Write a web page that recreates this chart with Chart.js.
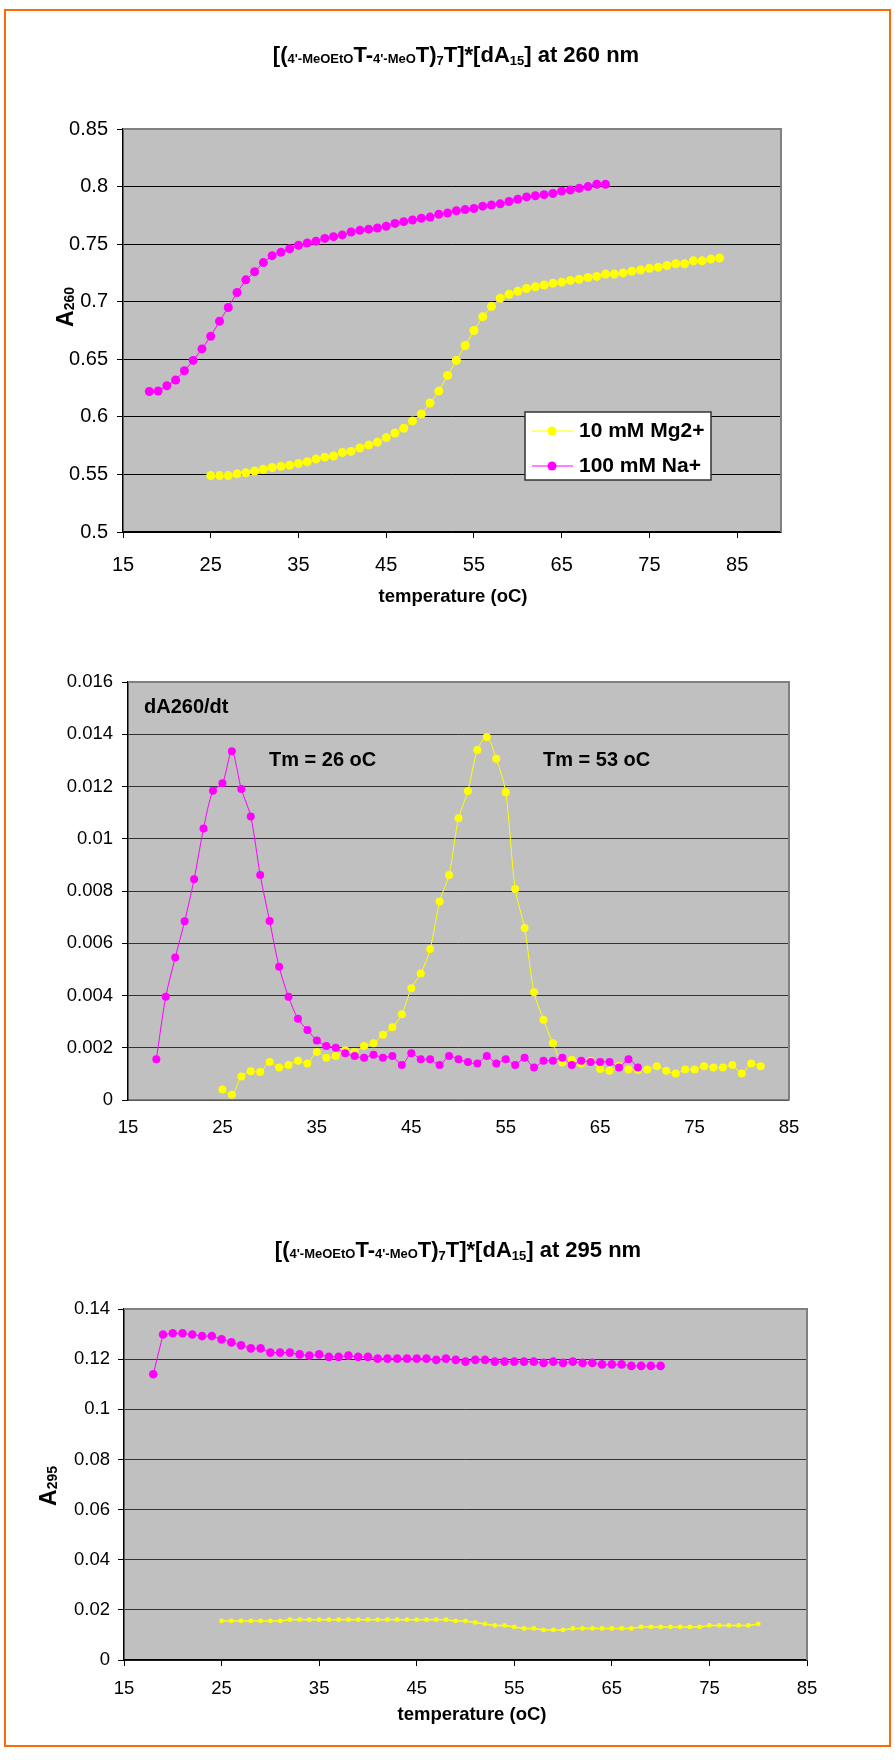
<!DOCTYPE html>
<html>
<head>
<meta charset="utf-8">
<script src="https://cdn.jsdelivr.net/npm/chart.js@4.4.1/dist/chart.umd.min.js"></script>
<style>
  html, body { margin: 0; padding: 0; background: #fff; }
  body { width: 895px; height: 1760px; position: relative; overflow: hidden; }
  canvas { position: absolute; left: 0; }
  #c1 { top: 0; }
  #c2 { top: 640px; }
  #c3 { top: 1160px; }
  .frame { position: absolute; left: 4px; top: 9px; width: 883px; height: 1734px; border: 2px solid #ff6a00; pointer-events: none; }
</style>
</head>
<body>
<canvas id="c1" width="895" height="640"></canvas>
<canvas id="c2" width="895" height="520"></canvas>
<canvas id="c3" width="895" height="600"></canvas>
<div class="frame"></div>
<script>
// ---- data ----
const tempTicks = [15, 25, 35, 45, 55, 65, 75, 85];
const a260Ticks = [0.5, 0.55, 0.6, 0.65, 0.7, 0.75, 0.8, 0.85];
const dadtTicks = [0, 0.002, 0.004, 0.006, 0.008, 0.01, 0.012, 0.014, 0.016];
const a295Ticks = [0, 0.02, 0.04, 0.06, 0.08, 0.1, 0.12, 0.14];

const seriesNames = ['10 mM Mg2+', '100 mM Na+'];

// A260 melting curves
const naTemp260 = [18, 19, 20, 21, 22, 23, 24, 25, 26, 27, 28, 29, 30, 31, 32, 33, 34, 35, 36, 37, 38, 39, 40, 41, 42, 43, 44,
  45, 46, 47, 48, 49, 50, 51, 52, 53, 54, 55, 56, 57, 58, 59, 60, 61, 62, 63, 64, 65, 66, 67, 68, 69, 70];
const naA260 = [0.622, 0.6225, 0.627, 0.632, 0.640, 0.649, 0.659, 0.670, 0.683, 0.695, 0.708, 0.719, 0.726, 0.734, 0.740,
  0.743, 0.746, 0.749, 0.751, 0.7525, 0.755, 0.7565, 0.758, 0.7605, 0.762, 0.763, 0.764, 0.7655, 0.768, 0.7695, 0.771,
  0.7725, 0.7735, 0.776, 0.777, 0.779, 0.780, 0.781, 0.783, 0.784, 0.785, 0.787, 0.789, 0.791, 0.792, 0.793, 0.794,
  0.796, 0.797, 0.7985, 0.800, 0.802, 0.802];
const mgTemp260 = [25, 26, 27, 28, 29, 30, 31, 32, 33, 34, 35, 36, 37, 38, 39, 40, 41, 42, 43, 44, 45, 46, 47, 48, 49, 50, 51,
  52, 53, 54, 55, 56, 57, 58, 59, 60, 61, 62, 63, 64, 65, 66, 67, 68, 69, 70, 71, 72, 73, 74, 75, 76, 77, 78, 79, 80, 81, 82, 83];
const mgA260 = [0.549, 0.549, 0.549, 0.5505, 0.5515, 0.553, 0.5545, 0.556, 0.557, 0.558, 0.5595, 0.561, 0.5635, 0.565,
  0.566, 0.569, 0.570, 0.573, 0.5755, 0.578, 0.582, 0.586, 0.590, 0.5965, 0.6025, 0.612, 0.6225, 0.636, 0.649, 0.662,
  0.675, 0.687, 0.696, 0.703, 0.7065, 0.709, 0.7115, 0.713, 0.7145, 0.716, 0.717, 0.7185, 0.7195, 0.721, 0.722, 0.724,
  0.724, 0.725, 0.7265, 0.7275, 0.729, 0.730, 0.7315, 0.733, 0.733, 0.7355, 0.7355, 0.737, 0.738];

// first derivative dA260/dt
const naTempDer = [18, 19, 20, 21, 22, 23, 24, 25, 26, 27, 28, 29, 30, 31, 32, 33, 34, 35, 36, 37, 38, 39, 40, 41, 42, 43, 44,
  45, 46, 47, 48, 49, 50, 51, 52, 53, 54, 55, 56, 57, 58, 59, 60, 61, 62, 63, 64, 65, 66, 67, 68, 69];
const naDer = [0.00156, 0.00395, 0.00545, 0.00684, 0.00845, 0.01039, 0.01184, 0.01212, 0.01335, 0.0119, 0.01085, 0.00861,
  0.00685, 0.0051, 0.00395, 0.00311, 0.00268, 0.00228, 0.00207, 0.002, 0.00179, 0.00168, 0.00162, 0.00173, 0.00162,
  0.00168, 0.00134, 0.00179, 0.00156, 0.00156, 0.00134, 0.00168, 0.00156, 0.00145, 0.0014, 0.00168, 0.0014, 0.00156,
  0.00134, 0.00162, 0.00124, 0.0015, 0.0015, 0.00162, 0.00134, 0.0015, 0.00145, 0.00145, 0.00145, 0.00124, 0.00156, 0.00124];
const mgTempDer = [25, 26, 27, 28, 29, 30, 31, 32, 33, 34, 35, 36, 37, 38, 39, 40, 41, 42, 43, 44, 45, 46, 47, 48, 49, 50, 51,
  52, 53, 54, 55, 56, 57, 58, 59, 60, 61, 62, 63, 64, 65, 66, 67, 68, 69, 70, 71, 72, 73, 74, 75, 76, 77, 78, 79, 80, 81, 82];
const mgDer = [0.0004, 0.0002, 0.0009, 0.0011, 0.00107, 0.00145, 0.00124, 0.00134, 0.0015, 0.0014, 0.00184, 0.00162,
  0.00168, 0.0019, 0.00184, 0.00207, 0.00217, 0.0025, 0.00278, 0.00328, 0.00428, 0.00484, 0.00578, 0.0076, 0.00861,
  0.01078, 0.01183, 0.0134, 0.01389, 0.01306, 0.01178, 0.00808, 0.00658, 0.00412, 0.00307, 0.00217, 0.00144, 0.00153,
  0.0014, 0.0015, 0.00119, 0.00112, 0.0013, 0.00117, 0.00115, 0.00117, 0.00129, 0.00112, 0.00101, 0.00117, 0.00117,
  0.00129, 0.00124, 0.00124, 0.00134, 0.00101, 0.0014, 0.00129];

// A295 curves
const naTemp295 = [18, 19, 20, 21, 22, 23, 24, 25, 26, 27, 28, 29, 30, 31, 32, 33, 34, 35, 36, 37, 38, 39, 40, 41, 42, 43, 44,
  45, 46, 47, 48, 49, 50, 51, 52, 53, 54, 55, 56, 57, 58, 59, 60, 61, 62, 63, 64, 65, 66, 67, 68, 69, 70];
const naA295 = [0.114, 0.1298, 0.1303, 0.1303, 0.1298, 0.1292, 0.1292, 0.1279, 0.1267, 0.1255, 0.1243, 0.1243, 0.1226,
  0.1226, 0.1226, 0.1219, 0.1214, 0.1219, 0.1209, 0.1209, 0.1214, 0.1209, 0.1209, 0.1202, 0.1202, 0.1202, 0.1202,
  0.1202, 0.1202, 0.1197, 0.1202, 0.1197, 0.119, 0.1197, 0.1197, 0.119, 0.119, 0.119, 0.119, 0.119, 0.1185, 0.119,
  0.1185, 0.119, 0.1185, 0.1185, 0.1179, 0.1179, 0.1179, 0.1173, 0.1173, 0.1173, 0.1173];
const mgTemp295 = [25, 26, 27, 28, 29, 30, 31, 32, 33, 34, 35, 36, 37, 38, 39, 40, 41, 42, 43, 44, 45, 46, 47, 48, 49, 50, 51,
  52, 53, 54, 55, 56, 57, 58, 59, 60, 61, 62, 63, 64, 65, 66, 67, 68, 69, 70, 71, 72, 73, 74, 75, 76, 77, 78, 79, 80];
const mgA295 = [0.0156, 0.0156, 0.0156, 0.0156, 0.0156, 0.0156, 0.0156, 0.0161, 0.0161, 0.0161, 0.0161, 0.0161, 0.0161,
  0.0161, 0.0161, 0.0161, 0.0161, 0.0161, 0.0161, 0.0161, 0.0161, 0.0161, 0.0161, 0.0161, 0.0156, 0.0156, 0.015,
  0.0144, 0.0138, 0.0138, 0.0132, 0.0126, 0.0126, 0.012, 0.012, 0.012, 0.0126, 0.0126, 0.0126, 0.0126, 0.0126, 0.0126,
  0.0126, 0.0132, 0.0132, 0.0132, 0.0132, 0.0132, 0.0132, 0.0132, 0.0138, 0.0138, 0.0138, 0.0138, 0.0138, 0.0144];

// ---- drawing helpers ----
const FONT = '"Liberation Sans", Arial, Helvetica, sans-serif';
const MG = '#ffff00';
const NA = '#ff00ff';

const pts = (xs, ys) => xs.map((x, i) => ({ x, y: ys[i] }));
const fmt = v => String(+v.toFixed(4));
const fixTicks = list => scale => { scale.ticks = list.map(v => ({ value: v })); };

function series(label, xs, ys, color, radius, width, order, tension) {
  return {
    label, data: pts(xs, ys), order,
    borderColor: color, backgroundColor: color, borderWidth: width,
    pointRadius: radius, pointBorderWidth: 0, pointBackgroundColor: color,
    tension: tension || 0, fill: false
  };
}

// text made of runs with different sizes / baseline shifts
function drawRich(ctx, parts, cx, baseline) {
  let total = 0;
  parts.forEach(p => { ctx.font = 'bold ' + p.size + 'px ' + FONT; p.w = ctx.measureText(p.t).width; total += p.w; });
  let x = cx - total / 2;
  ctx.textAlign = 'left';
  ctx.textBaseline = 'alphabetic';
  parts.forEach(p => {
    ctx.font = 'bold ' + p.size + 'px ' + FONT;
    ctx.fillText(p.t, x, baseline + (p.dy || 0));
    x += p.w;
  });
}

function titleParts(nm) {
  return [
    { t: '[(', size: 22 }, { t: "4'-MeOEtO", size: 13, dy: 1 }, { t: 'T-', size: 22 },
    { t: "4'-MeO", size: 13, dy: 1 }, { t: 'T)', size: 22 }, { t: '7', size: 13, dy: 3 },
    { t: 'T]*[dA', size: 22 }, { t: '15', size: 13, dy: 3 }, { t: '] at ' + nm + ' nm', size: 22 }
  ];
}

function drawYTitle(ctx, sub, cx, cy) {
  ctx.save();
  ctx.translate(cx, cy);
  ctx.rotate(-Math.PI / 2);
  ctx.fillStyle = '#000';
  drawRich(ctx, [{ t: 'A', size: 23 }, { t: sub, size: 14, dy: 1 }], 0, 8);
  ctx.restore();
}

function drawText(ctx, text, x, y, size, align) {
  ctx.font = 'bold ' + size + 'px ' + FONT;
  ctx.fillStyle = '#000';
  ctx.textAlign = align || 'left';
  ctx.textBaseline = 'middle';
  ctx.fillText(text, x, y);
}

// grey plot area with a grey top/right edge
const plotFrame = {
  id: 'plotFrame',
  beforeDraw(chart) {
    const { ctx, chartArea: a } = chart;
    ctx.save();
    ctx.fillStyle = '#c0c0c0';
    ctx.fillRect(a.left, a.top, a.right - a.left, a.bottom - a.top);
    ctx.restore();
  },
  afterDatasetsDraw(chart) {
    const { ctx, chartArea: a } = chart;
    ctx.save();
    ctx.strokeStyle = '#808080';
    ctx.lineWidth = 2;
    ctx.beginPath();
    ctx.moveTo(a.left, a.top);
    ctx.lineTo(a.right, a.top);
    ctx.lineTo(a.right, a.bottom);
    ctx.stroke();
    ctx.restore();
  }
};

function baseOptions(o) {
  return {
    responsive: false, animation: false, devicePixelRatio: 1, events: [],
    layout: { padding: o.padding },
    plugins: { legend: { display: false }, tooltip: { enabled: false } },
    scales: {
      x: {
        type: 'linear', min: o.xmin, max: o.xmax,
        afterBuildTicks: fixTicks(tempTicks),
        afterFit: s => { s.height = o.xHeight; },
        grid: { drawOnChartArea: false, drawTicks: o.xTicks, tickLength: 6, color: '#000' },
        border: { color: o.xBorder, width: 1.5 },
        ticks: { color: '#000', padding: o.xPad, maxRotation: 0, autoSkip: false,
          font: { family: FONT, size: o.tickSize }, callback: fmt }
      },
      y: {
        min: o.yTicks[0], max: o.yTicks[o.yTicks.length - 1],
        afterBuildTicks: fixTicks(o.yTicks),
        afterFit: s => { s.width = o.yWidth; },
        grid: { color: o.gridColor, tickColor: '#000', tickLength: 6, lineWidth: 1 },
        border: { color: '#000', width: 1.5 },
        ticks: { color: '#000', padding: o.yPad, autoSkip: false,
          font: { family: FONT, size: o.tickSize }, callback: fmt }
      }
    }
  };
}

// ---- chart 1 : A260 ----
new Chart(document.getElementById('c1'), {
  type: 'line',
  data: {
    datasets: [
      series(seriesNames[0], mgTemp260, mgA260, MG, 4.5, 1, 1),
      series(seriesNames[1], naTemp260, naA260, NA, 4.5, 1, 0)
    ]
  },
  options: baseOptions({
    padding: { top: 129, right: 114, left: 0, bottom: 0 },
    xmin: 15, xmax: 90, xHeight: 108, xTicks: true, xBorder: '#000', xPad: 15,
    yTicks: a260Ticks, yWidth: 123, yPad: 9, tickSize: 20, gridColor: '#000'
  }),
  plugins: [plotFrame, {
    id: 'text1',
    afterDraw(chart) {
      const ctx = chart.ctx;
      ctx.save();
      ctx.fillStyle = '#000';
      drawRich(ctx, titleParts('260'), 456, 62);
      drawYTitle(ctx, '260', 65, 307);
      drawText(ctx, 'temperature (oC)', 453, 597, 18.5, 'center');
      // legend
      ctx.fillStyle = '#fff';
      ctx.fillRect(525, 412, 186, 68);
      ctx.strokeStyle = '#333';
      ctx.lineWidth = 1.5;
      ctx.strokeRect(525, 412, 186, 68);
      [[MG, 431], [NA, 466]].forEach(([c, y], i) => {
        ctx.strokeStyle = c;
        ctx.lineWidth = 1;
        ctx.beginPath(); ctx.moveTo(532, y); ctx.lineTo(573, y); ctx.stroke();
        ctx.fillStyle = c;
        ctx.beginPath(); ctx.arc(552, y, 4.5, 0, Math.PI * 2); ctx.fill();
        drawText(ctx, seriesNames[i], 579, y, 21);
      });
      ctx.restore();
    }
  }]
});

// ---- chart 2 : dA260/dt ----
new Chart(document.getElementById('c2'), {
  type: 'line',
  data: {
    datasets: [
      series(seriesNames[0], mgTempDer, mgDer, MG, 4, 1, 1, 0.3),
      series(seriesNames[1], naTempDer, naDer, NA, 4, 1, 0, 0.3)
    ]
  },
  options: baseOptions({
    padding: { top: 42, right: 106, left: 0, bottom: 0 },
    xmin: 15, xmax: 85, xHeight: 60, xTicks: false, xBorder: '#808080', xPad: 17,
    yTicks: dadtTicks, yWidth: 128, yPad: 9, tickSize: 18.5, gridColor: '#333'
  }),
  plugins: [plotFrame, {
    id: 'text2',
    afterDraw(chart) {
      const ctx = chart.ctx;
      ctx.save();
      drawText(ctx, 'dA260/dt', 144, 67, 20);
      drawText(ctx, 'Tm = 26 oC', 269, 120, 20);
      drawText(ctx, 'Tm = 53 oC', 543, 120, 20);
      ctx.restore();
    }
  }]
});

// ---- chart 3 : A295 ----
new Chart(document.getElementById('c3'), {
  type: 'line',
  data: {
    datasets: [
      series(seriesNames[0], mgTemp295, mgA295, MG, 2.4, 1.5, 1),
      series(seriesNames[1], naTemp295, naA295, NA, 4.3, 1, 0)
    ]
  },
  options: baseOptions({
    padding: { top: 149, right: 88, left: 0, bottom: 0 },
    xmin: 15, xmax: 85, xHeight: 100, xTicks: true, xBorder: '#000', xPad: 12,
    yTicks: a295Ticks, yWidth: 124, yPad: 8, tickSize: 18.5, gridColor: '#333'
  }),
  plugins: [plotFrame, {
    id: 'text3',
    afterDraw(chart) {
      const ctx = chart.ctx;
      ctx.save();
      ctx.fillStyle = '#000';
      drawRich(ctx, titleParts('295'), 458, 97);
      drawYTitle(ctx, '295', 48, 326);
      drawText(ctx, 'temperature (oC)', 472, 555, 18.5, 'center');
      ctx.restore();
    }
  }]
});
</script>
</body>
</html>
